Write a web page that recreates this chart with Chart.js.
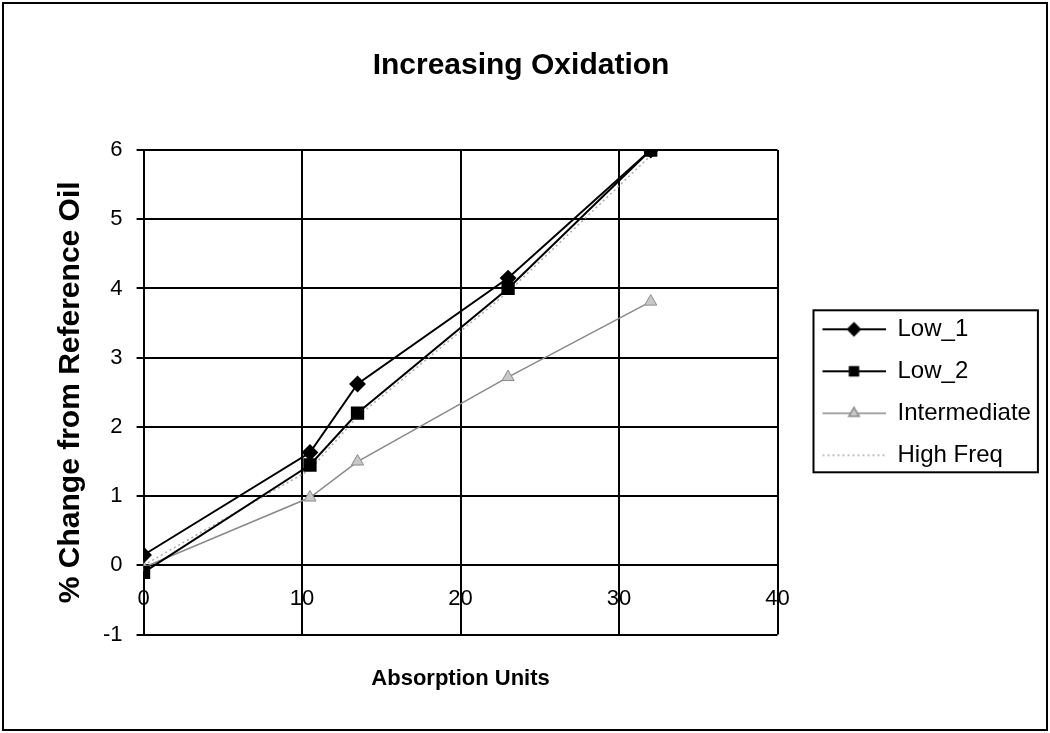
<!DOCTYPE html>
<html>
<head>
<meta charset="utf-8">
<script src="https://cdn.jsdelivr.net/npm/chart.js@4.4.1/dist/chart.umd.min.js"></script>
<style>
  html, body { margin: 0; padding: 0; background: #fff; }
  #wrap { width: 1050px; height: 733px; }
</style>
</head>
<body>
<div id="wrap"><canvas id="chart"></canvas></div>
<script>
// values
const absorption = [0, 10.5, 13.5, 23, 32];
const low1 = [0.15, 1.63, 2.62, 4.15, 6.0];
const low2 = [-0.1, 1.45, 2.2, 4.0, 6.0];
const intermediate = [-0.03, 0.98, 1.5, 2.72, 3.81];
const highFreq = [0, 1.38, 2.15, 3.95, 5.92];
const seriesNames = ["Low_1", "Low_2", "Intermediate", "High Freq"];
const xRange = [0, 40];
const yRange = [-1, 6];

const FONT = "'Liberation Sans', Arial, sans-serif";
const LEAD = 27, SAMPLE = 63;

function pts(ys) {
  return absorption.map((x, i) => ({ x: x, y: ys[i] }));
}

// little line+marker picture for the legend
function sample(color, width, dash, marker, fill) {
  const cv = document.createElement('canvas');
  cv.width = LEAD + SAMPLE; cv.height = 20;
  const g = cv.getContext('2d');
  g.strokeStyle = color; g.lineWidth = width; g.setLineDash(dash);
  g.beginPath(); g.moveTo(LEAD, 10); g.lineTo(LEAD + SAMPLE, 10); g.stroke();
  g.setLineDash([]);
  if (marker) {
    g.fillStyle = fill; g.strokeStyle = color;
    Chart.helpers.drawPoint(g, { pointStyle: marker, radius: 6, borderWidth: 1 }, LEAD + SAMPLE / 2, 10);
  }
  return cv;
}

const samples = [
  sample('#000', 2, [], 'rectRot', '#000'),
  sample('#000', 2, [], 'rect', '#000'),
  sample('#8a8a8a', 1.5, [], 'triangle', '#c8c8c8'),
  sample('#aaa', 1.5, [2, 3], null, null)
];

const frames = {
  id: 'frames',
  afterDraw(chart) {
    const ctx = chart.ctx;
    ctx.save();
    ctx.strokeStyle = '#000';
    ctx.lineWidth = 2;
    ctx.strokeRect(3, 3, chart.width - 6, chart.height - 6);
    const hb = chart.legend.legendHitBoxes;
    if (hb && hb.length) {
      const left = hb[0].left + LEAD - 9;
      const right = Math.max(...hb.map(h => h.left + h.width)) + 7;
      const top = hb[0].top - 7;
      const last = hb[hb.length - 1];
      const bottom = last.top + last.height + 5;
      ctx.strokeRect(left, top, right - left, bottom - top);
    }
    ctx.restore();
  }
};

new Chart(document.getElementById('chart'), {
  type: 'scatter',
  data: {
    datasets: [
      { label: seriesNames[0], data: pts(low1), showLine: true, borderColor: '#000', borderWidth: 2,
        pointStyle: 'rectRot', pointRadius: 7, pointBackgroundColor: '#000', pointBorderColor: '#000' },
      { label: seriesNames[1], data: pts(low2), showLine: true, borderColor: '#000', borderWidth: 2,
        pointStyle: 'rect', pointRadius: 8, pointBackgroundColor: '#000', pointBorderColor: '#000' },
      { label: seriesNames[2], data: pts(intermediate), showLine: true, borderColor: '#8a8a8a', borderWidth: 1.5,
        pointStyle: 'triangle', pointRadius: 7, pointBackgroundColor: '#c8c8c8', pointBorderColor: '#8a8a8a', pointBorderWidth: 1 },
      { label: seriesNames[3], data: pts(highFreq), showLine: true, borderColor: '#aaa', borderWidth: 1.5,
        borderDash: [2, 3], pointRadius: 0 }
    ]
  },
  options: {
    responsive: true,
    maintainAspectRatio: false,
    animation: false,
    layout: { padding: { top: 8, bottom: 8, left: 8, right: 16 } },
    plugins: {
      tooltip: { enabled: false },
      title: {
        display: true, text: 'Increasing Oxidation', color: '#000',
        font: { family: FONT, size: 30, weight: 'bold' },
        padding: { top: 40, bottom: 66 }
      },
      legend: {
        position: 'right', fullSize: false,
        labels: {
          color: '#000', font: { family: FONT, size: 24 }, padding: 18,
          usePointStyle: true, pointStyleWidth: LEAD + SAMPLE,
          generateLabels: chart => chart.data.datasets.map((ds, i) => ({
            text: ds.label, datasetIndex: i, pointStyle: samples[i],
            fillStyle: 'transparent', strokeStyle: 'transparent', lineWidth: 0,
            hidden: false, fontColor: '#000'
          }))
        }
      }
    },
    scales: {
      x: {
        type: 'linear', axis: 'x', position: { y: 0 },
        min: xRange[0], max: xRange[1],
        ticks: { stepSize: 10, color: '#000', font: { family: FONT, size: 22 }, padding: 20, maxRotation: 0 },
        grid: { color: '#000', lineWidth: 2, drawTicks: false },
        border: { color: '#000', width: 2 }
      },
      xt: {
        type: 'linear', axis: 'x', position: 'bottom',
        min: xRange[0], max: xRange[1],
        ticks: { display: false },
        grid: { display: false, drawTicks: false },
        border: { display: false },
        title: {
          display: true, text: 'Absorption Units', color: '#000',
          font: { family: FONT, size: 22, weight: 'bold' },
          padding: { top: 31, bottom: 33 }
        }
      },
      y: {
        type: 'linear', min: yRange[0], max: yRange[1],
        ticks: { stepSize: 1, color: '#000', font: { family: FONT, size: 22 }, padding: 14 },
        grid: { color: '#000', lineWidth: 2, tickLength: 7 },
        border: { color: '#000', width: 2 },
        title: {
          display: true, text: '% Change from Reference Oil', color: '#000',
          font: { family: FONT, size: 30, weight: 'bold' },
          padding: { top: 45, bottom: 0 }
        }
      }
    }
  },
  plugins: [frames]
});
</script>
</body>
</html>
